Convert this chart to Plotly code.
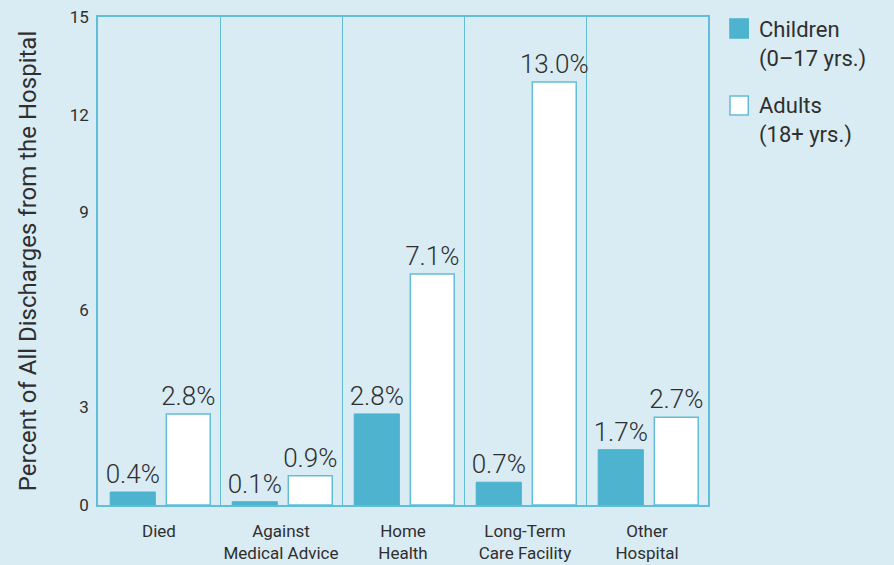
import plotly.graph_objects as go

categories = ["Died", "Against<br>Medical Advice", "Home<br>Health",
              "Long-Term<br>Care Facility", "Other<br>Hospital"]
children = [0.4, 0.1, 2.8, 0.7, 1.7]
adults = [2.8, 0.9, 7.1, 13.0, 2.7]
y_ticks = [0, 3, 6, 9, 12, 15]
legend_labels = ["Children<br>(0\u201317 yrs.)", "Adults<br>(18+ yrs.)"]

BG = "#d9ebf3"
TEAL = "#4db3cf"
LINE = "#62bdd8"
TXT = "#2f2f2f"
FONT = "Roboto"

fig = go.Figure()
fig.add_trace(go.Bar(
    x=categories, y=children, name=legend_labels[0],
    marker=dict(color=TEAL, line=dict(color=TEAL, width=1)),
    width=0.37, offset=-0.40,
    text=[f"{v:.1f}%" for v in children], textposition="outside",
    constraintext="none",
    textfont=dict(size=26, color=TXT, family=FONT, weight=300), cliponaxis=False,
))
fig.add_trace(go.Bar(
    x=categories, y=adults, name=legend_labels[1],
    marker=dict(color="white", line=dict(color=LINE, width=1.5)),
    width=0.36, offset=0.06,
    text=[f"{v:.1f}%" for v in adults], textposition="outside",
    constraintext="none",
    textfont=dict(size=26, color=TXT, family=FONT, weight=300), cliponaxis=False,
))

# Legend drawn as swatches + labels beside the plot area
swatches = [
    dict(fill=TEAL, border=TEAL, y0=0.957, y1=0.996, ty=1.004),
    dict(fill="white", border=LINE, y0=0.799, y1=0.838, ty=0.848),
]
for sw, label in zip(swatches, legend_labels):
    fig.add_shape(type="rect", xref="paper", yref="paper",
                  x0=1.036, x1=1.066, y0=sw["y0"], y1=sw["y1"],
                  fillcolor=sw["fill"], line=dict(color=sw["border"], width=1.5))
    fig.add_annotation(xref="paper", yref="paper", x=1.08, y=sw["ty"],
                       xanchor="left", yanchor="top", align="left",
                       showarrow=False, text=label,
                       font=dict(size=22, color=TXT, family=FONT))

fig.update_layout(
    width=894, height=565,
    margin=dict(l=98, r=186, t=17, b=60),
    paper_bgcolor=BG, plot_bgcolor=BG,
    font=dict(family=FONT, color=TXT),
    barmode="overlay",
    showlegend=False,
    xaxis=dict(tickson="boundaries", showgrid=True, gridcolor=LINE, gridwidth=1,
               showline=True, mirror=True, linecolor=LINE, linewidth=1.5,
               ticks="", ticklabelstandoff=10, tickangle=0, automargin=False,
               tickfont=dict(size=17, color=TXT, family=FONT)),
    yaxis=dict(range=[0, 15], tickvals=y_ticks, showgrid=False, zeroline=False,
               showline=True, mirror=True, linecolor=LINE, linewidth=1.5,
               ticks="", ticklabelstandoff=4, automargin=False,
               tickfont=dict(size=17, color=TXT, family=FONT),
               title=dict(text="Percent of All Discharges from the Hospital",
                          font=dict(size=24, color=TXT, family=FONT), standoff=26)),
)

fig.write_html("out.html")
